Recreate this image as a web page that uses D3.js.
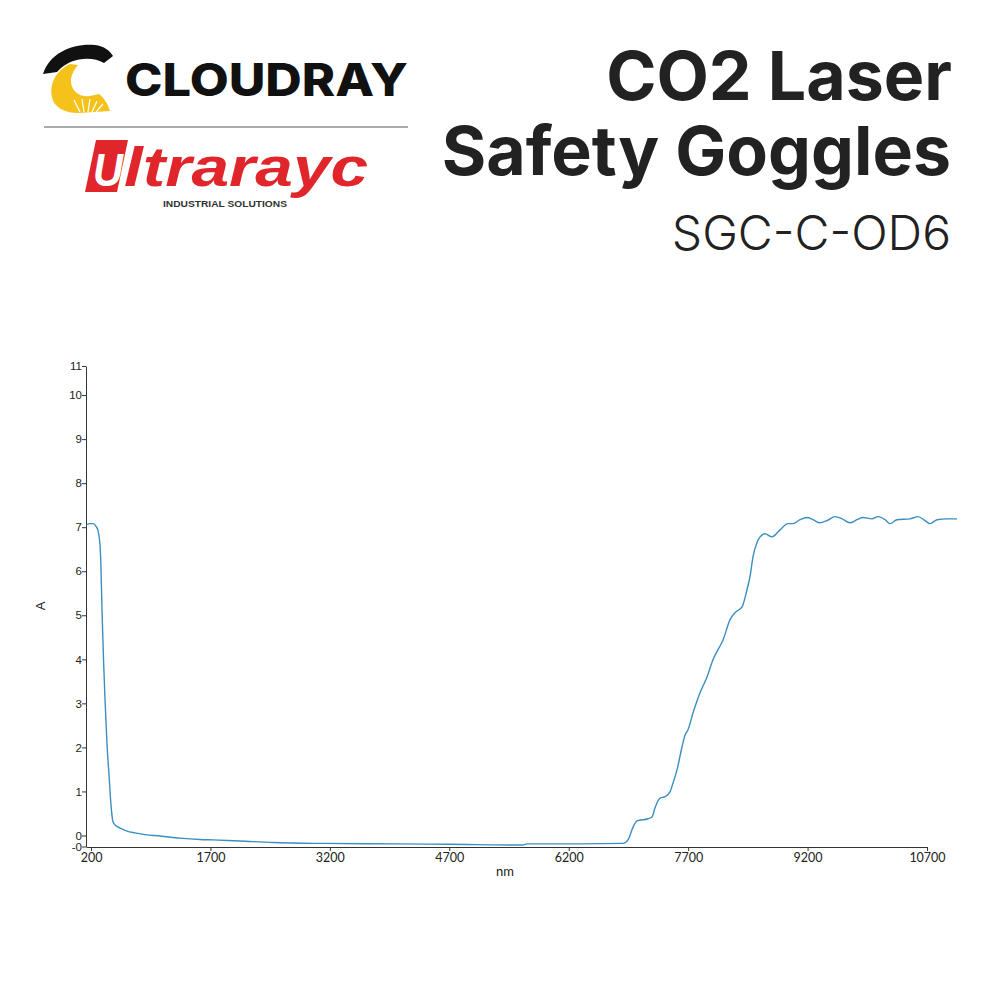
<!DOCTYPE html>
<html><head><meta charset="utf-8">
<script src="https://cdn.jsdelivr.net/npm/d3@7/dist/d3.min.js"></script>
<style>html,body{margin:0;padding:0;background:#fff}</style>
</head><body>
<svg id="chart" width="1000" height="1000"></svg>
<script>
// ---- data ----
const wavelength = [143,187,225,263,288,313,326,338,357,376,401,426,451,476,514,564,652,753,878,1067,1318,1569,1732,2071,2486,3114,4081,4709,5626,5676,6342,6882,6945,7008,7058,7196,7246,7284,7347,7409,7472,7510,7560,7623,7661,7698,7761,7849,7937,8012,8075,8138,8226,8289,8377,8439,8477,8515,8565,8603,8665,8753,8854,8954,9017,9105,9193,9268,9356,9444,9545,9633,9733,9821,9896,10009,10085,10173,10235,10323,10486,10587,10675,10738,10826,10951,11077];
const absorbance = [7.06,7.08,7.08,7.02,6.92,6.60,6.03,5.12,3.99,3.08,2.06,1.38,0.69,0.31,0.22,0.17,0.10,0.06,0.02,-0.01,-0.06,-0.09,-0.10,-0.125,-0.16,-0.18,-0.19,-0.20,-0.216,-0.19,-0.19,-0.18,-0.10,0.19,0.33,0.38,0.42,0.63,0.85,0.88,0.99,1.19,1.49,2.01,2.28,2.40,2.78,3.24,3.60,3.99,4.22,4.44,4.90,5.06,5.19,5.58,5.88,6.33,6.65,6.78,6.85,6.78,6.94,7.08,7.08,7.17,7.22,7.17,7.10,7.15,7.24,7.19,7.10,7.17,7.22,7.19,7.24,7.17,7.08,7.17,7.19,7.24,7.15,7.08,7.17,7.19,7.19];
const xTickValues = [200,1700,3200,4700,6200,7700,9200,10700];
const yTickValues = [-0.25,0,1,2,3,4,5,6,7,8,9,10,10.66];
const yTickLabels = ["-0","0","1","2","3","4","5","6","7","8","9","10","11"];
const xDomainEnds = [137,10700];
const yDomainEnds = [-0.25,10.66];
const titleLines = ["CO2 Laser","Safety Goggles"];
const subtitle = "SGC-C-OD6";

const svg = d3.select("#chart");

// ---- logos ----
const logo = svg.append("g");
logo.append("path").attr("fill","#111")
  .attr("d","M43,74 C50,52 74,43 95,45 C104,46 110,51 113,56 L104,63 C92,56 70,57 57,72 Z");
logo.append("path").attr("fill","#f5c21b")
  .attr("d","M70,64 C52,72 47,92 55,104 C60,110 68,113 78,113 L110,111 C108,104 104,98 99,94 L90,96 C76,98 68,86 72,75 C74,70 76,67 78,65 Z");
const rays = logo.append("g").attr("stroke","#fff").attr("stroke-width",1.2);
[[80,112,74,100],[84,112,82,99],[88,112,90,99],[92,112,97,101],[96,112,103,104]].forEach(r=>{
  rays.append("line").attr("x1",r[0]).attr("y1",r[1]).attr("x2",r[2]).attr("y2",r[3]);
});
logo.append("text").attr("x",125).attr("y",96)
  .attr("font-family","Inter, 'DejaVu Sans', sans-serif").attr("font-weight",800)
  .attr("font-size",45).attr("fill","#111")
  .attr("textLength",283).attr("lengthAdjust","spacingAndGlyphs").text("CLOUDRAY");
logo.append("line").attr("x1",44).attr("x2",408).attr("y1",127).attr("y2",127)
  .attr("stroke","#aaa").attr("stroke-width",2);
logo.append("path").attr("fill","#e1262b")
  .attr("d","M96,140 L128,140 L117,192 L85,192 Z");
logo.append("text").attr("x",93).attr("y",186)
  .attr("font-family","'Liberation Sans', Arial, sans-serif").attr("font-weight",700).attr("font-style","italic")
  .attr("font-size",46).attr("fill","#fff").attr("textLength",30).attr("lengthAdjust","spacingAndGlyphs").text("U");
logo.append("text").attr("x",124).attr("y",186)
  .attr("font-family","'Liberation Sans', Arial, sans-serif").attr("font-weight",700).attr("font-style","italic")
  .attr("font-size",55).attr("fill","#e1262b")
  .attr("textLength",244).attr("lengthAdjust","spacingAndGlyphs").text("ltrarayc");
logo.append("text").attr("x",163).attr("y",207)
  .attr("font-family","'Liberation Sans', Arial, sans-serif").attr("font-weight",700)
  .attr("font-size",9).attr("fill","#333")
  .attr("textLength",124).attr("lengthAdjust","spacingAndGlyphs").text("INDUSTRIAL SOLUTIONS");

// ---- title ----
const tg = svg.append("g").attr("font-family","Inter, 'Noto Sans', sans-serif").attr("fill","#222").attr("text-anchor","end");
tg.append("text").attr("x",952).attr("y",100).attr("font-size",68).attr("font-weight",700).text(titleLines[0]);
tg.append("text").attr("x",951).attr("y",175).attr("font-size",68).attr("font-weight",700).text(titleLines[1]);
tg.append("text").attr("x",951).attr("y",250).attr("font-size",48).attr("font-weight",300).text(subtitle);

// ---- chart ----
const x = d3.scaleLinear().domain(xDomainEnds).range([86,927]);
const y = d3.scaleLinear().domain(yDomainEnds).range([846.5,366]);

const axisColor = "#333";
const xAxis = d3.axisBottom(x).tickValues(xTickValues).tickSize(4).tickSizeOuter(0).tickFormat(d3.format("d"));
const gx = svg.append("g").attr("transform","translate(0,847)").call(xAxis);
gx.select(".domain").attr("stroke",axisColor);
gx.selectAll(".tick line").attr("stroke",axisColor);
gx.selectAll(".tick text").attr("font-family","Lato, 'Open Sans', sans-serif").attr("font-size",12.5).attr("fill","#222").attr("dy","0.6em");

const yAxis = d3.axisLeft(y).tickValues(yTickValues).tickSize(4).tickSizeOuter(0)
  .tickFormat((d,i)=>yTickLabels[i]);
const gy = svg.append("g").attr("transform","translate(86,0)").call(yAxis);
gy.select(".domain").attr("stroke",axisColor);
gy.selectAll(".tick line").attr("stroke",axisColor);
gy.selectAll(".tick text").attr("font-family","'Liberation Sans', Arial, sans-serif").attr("font-size",11.5).attr("fill","#222").attr("x",-4);

svg.append("text").attr("x",505).attr("y",876).attr("text-anchor","middle")
  .attr("font-family","Lato, 'Open Sans', sans-serif").attr("font-size",13).attr("fill","#222").text("nm");
svg.append("text").attr("transform","translate(45,606) rotate(-90)").attr("text-anchor","middle")
  .attr("font-family","'Liberation Sans', Arial, sans-serif").attr("font-size",13).attr("fill","#222").text("A");

const data = wavelength.map((w,i)=>({w, a: absorbance[i]}));
const line = d3.line().x(d=>x(d.w)).y(d=>y(d.a)).curve(d3.curveMonotoneX);
svg.append("path").datum(data).attr("d",line).attr("fill","none")
  .attr("stroke","#3a8ec2").attr("stroke-width",1.4);
</script>
</body></html>
